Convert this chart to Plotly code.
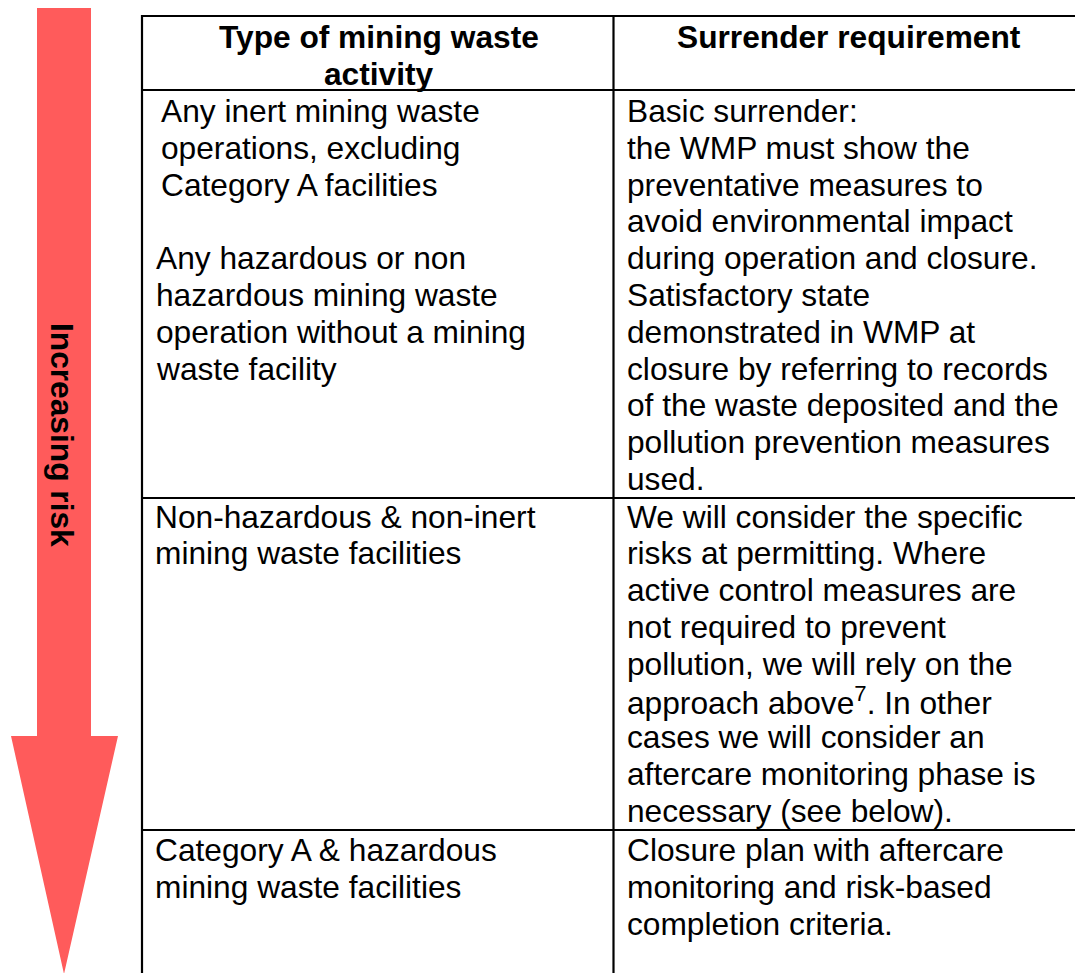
import plotly.graph_objects as go

# ---------------- data (text content) ----------------
arrow_label = "Increasing risk"
header_left = ["Type of mining waste", "activity"]
header_right = ["Surrender requirement"]

left_row1_block1 = ["Any inert mining waste", "operations, excluding", "Category A facilities"]
left_row1_block2 = ["Any hazardous or non", "hazardous mining waste",
                    "operation without a mining", "waste facility"]
left_row2 = ["Non-hazardous & non-inert", "mining waste facilities"]
left_row3 = ["Category A & hazardous", "mining waste facilities"]

right_row1 = ["Basic surrender:", "the WMP must show the", "preventative measures to",
              "avoid environmental impact", "during operation and closure.",
              "Satisfactory state", "demonstrated in WMP at",
              "closure by referring to records", "of the waste deposited and the",
              "pollution prevention measures", "used."]
right_row2 = ["We will consider the specific", "risks at permitting. Where",
              "active control measures are", "not required to prevent",
              "pollution, we will rely on the", "approach above<sup>7</sup>. In other",
              "cases we will consider an", "aftercare monitoring phase is",
              "necessary (see below)."]
right_row3 = ["Closure plan with aftercare", "monitoring and risk-based",
              "completion criteria."]

# ---------------- layout constants ----------------
W, H = 1075, 973
FONT = "Liberation Sans, Arial, sans-serif"
FS = 31.7
PITCH = 36.8
RED = "#FF5B5B"
LINE_W = 2.2

x_left_border = 142
x_divider = 613.5
x_right_end = 1090
y_top = 16
y_header_bottom = 90
y_row_bottoms = [498, 830]

fig = go.Figure()

shapes = []
# arrow
arrow_path = "M 37,8 L 91,8 L 91,736 L 118,736 L 64,974 L 11,736 L 37,736 Z"
shapes.append(dict(type="path", path=arrow_path, xref="x", yref="y",
                   fillcolor=RED, line=dict(width=0), layer="below"))
# table lines
for y in [y_top, y_header_bottom] + y_row_bottoms:
    shapes.append(dict(type="line", xref="x", yref="y", x0=x_left_border - 1, x1=x_right_end,
                       y0=y, y1=y, line=dict(color="black", width=LINE_W)))
for x in [x_left_border, x_divider]:
    shapes.append(dict(type="line", xref="x", yref="y", x0=x, x1=x,
                       y0=y_top - 1, y1=H + 10, line=dict(color="black", width=LINE_W)))

annotations = []


def add_lines(lines, x, y0, xanchor="left", bold=False):
    for i, t in enumerate(lines):
        txt = f"<b>{t}</b>" if bold else t
        annotations.append(dict(x=x, y=y0 + i * PITCH, xref="x", yref="y", text=txt,
                                showarrow=False, xanchor=xanchor, yanchor="middle",
                                borderpad=0, borderwidth=0,
                                font=dict(family=FONT, size=FS, color="black")))


# header
add_lines(header_left, 379, 37, xanchor="center", bold=True)
add_lines(header_right, 848.5, 37, xanchor="center", bold=True)
# left column
add_lines(left_row1_block1, 160.5, 111)
add_lines(left_row1_block2, 156, 111 + 4 * PITCH)
add_lines(left_row2, 155, 516.5)
add_lines(left_row3, 155, 850)
# right column
add_lines(right_row1, 627, 111)
add_lines(right_row2, 627, 516.5)
add_lines(right_row3, 627, 850)

# arrow label
annotations.append(dict(x=62.5, y=434.5, xref="x", yref="y", text=f"<b>{arrow_label}</b>",
                        showarrow=False, textangle=90, xanchor="center", yanchor="middle",
                        borderpad=0, borderwidth=0,
                        font=dict(family=FONT, size=FS, color="black")))

fig.update_layout(
    width=W, height=H, margin=dict(l=0, r=0, t=0, b=0, pad=0),
    paper_bgcolor="white", plot_bgcolor="white",
    xaxis=dict(range=[0, W], visible=False, fixedrange=True),
    yaxis=dict(range=[H, 0], visible=False, fixedrange=True),
    shapes=shapes, annotations=annotations, showlegend=False,
)

fig.write_html("out.html", config={"displayModeBar": False},
               post_script="document.body.style.margin='0';document.body.style.overflow='hidden';")
